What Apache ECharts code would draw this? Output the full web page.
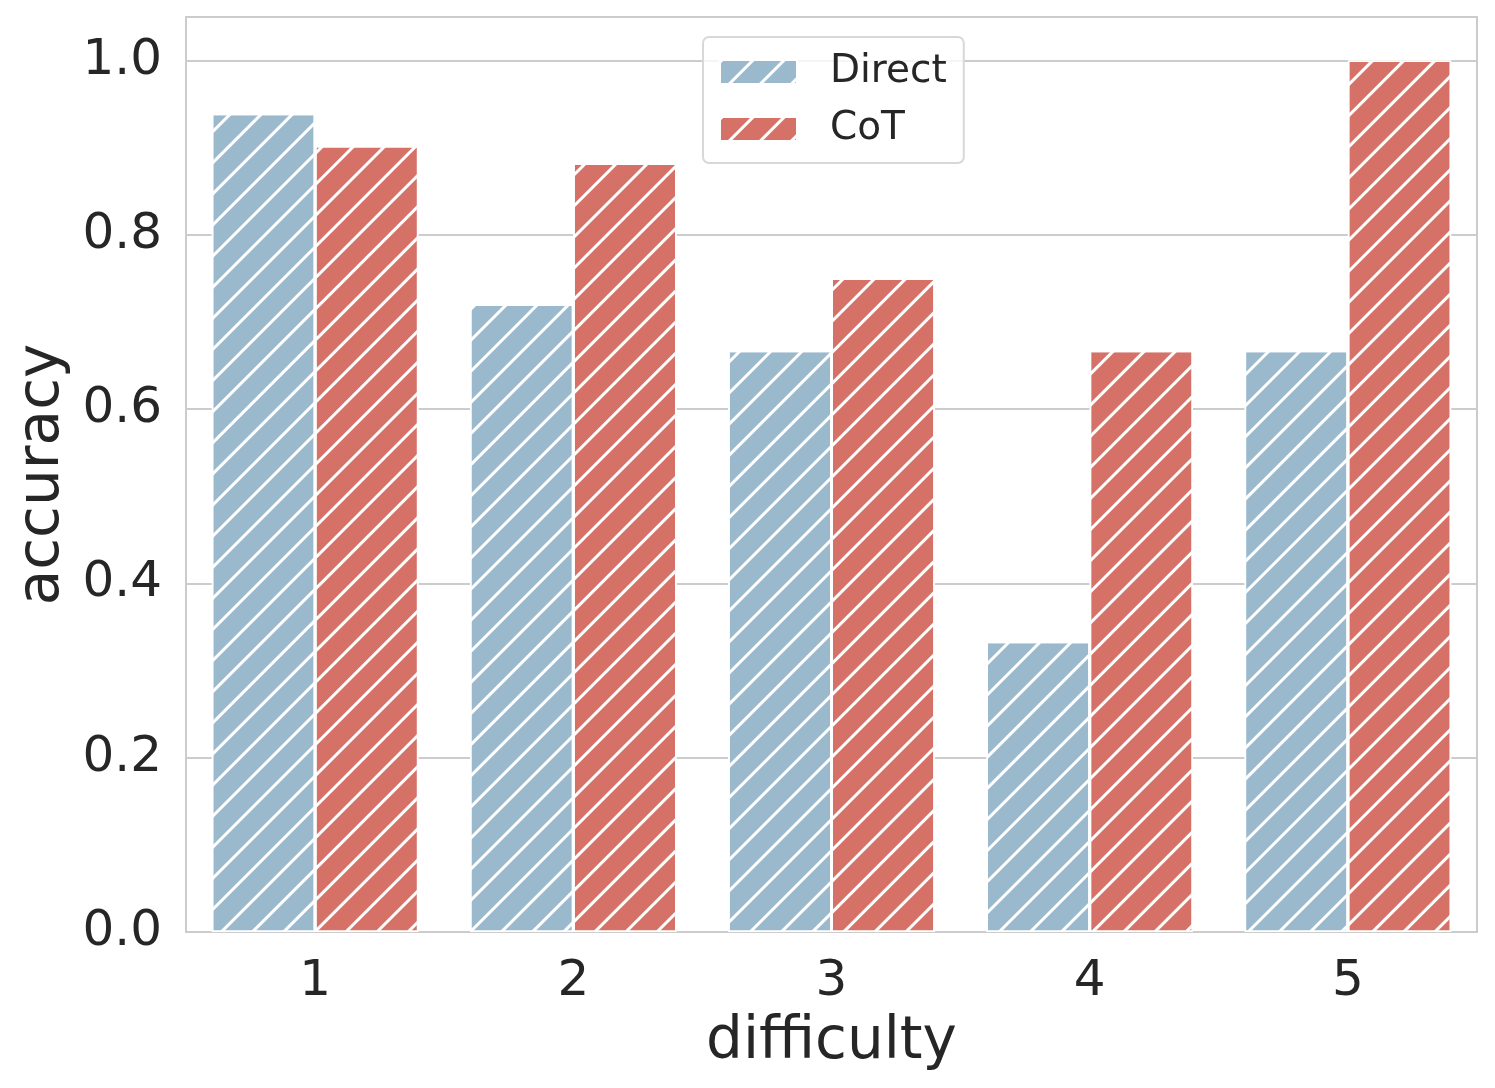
<!DOCTYPE html>
<html>
<head>
<meta charset="utf-8">
<script src="https://cdn.jsdelivr.net/npm/echarts@6/dist/echarts.min.js"></script>
<style>html,body{margin:0;padding:0;background:#fff}#c{width:1495px;height:1088px}</style>
</head>
<body>
<div id="c"></div>
<script>
const categories = ['1', '2', '3', '4', '5'];
const directValues = [0.939, 0.72, 0.667, 0.333, 0.667];
const cotValues = [0.902, 0.882, 0.75, 0.667, 1.0];
const yTicks = [0, 0.2, 0.4, 0.6, 0.8, 1.0];

const FONT = 'DejaVu Sans';
const hatch = {
  symbol: 'rect',
  symbolSize: 1,
  color: 'rgba(255,255,255,1)',
  dashArrayX: [1, 0],
  dashArrayY: [2.2, 18.3],
  rotation: -Math.PI / 4
};

const chart = echarts.init(document.getElementById('c'), null, {renderer: 'canvas'});
chart.setOption({
  backgroundColor: '#fff',
  animation: false,
  textStyle: {fontFamily: FONT},
  grid: {left: 186, right: 18, top: 17, bottom: 156, show: true, borderColor: '#cccccc', borderWidth: 2, backgroundColor: 'transparent'},
  legend: {
    left: 703, top: 37,
    orient: 'vertical',
    icon: 'rect',
    itemWidth: 77, itemHeight: 24,
    itemGap: 15,
    padding: [14, 17, 13, 16],
    backgroundColor: 'rgba(255,255,255,0.8)',
    borderColor: '#d8d8d8', borderWidth: 2, borderRadius: 6,
    textStyle: {fontFamily: FONT, fontSize: 39, color: '#262626', lineHeight: 42, padding: [0, 0, 0, 28]},
    data: ['Direct', 'CoT']
  },
  xAxis: {
    type: 'category',
    data: categories,
    name: 'difficulty',
    nameLocation: 'middle',
    nameGap: 82,
    nameTextStyle: {fontFamily: FONT, fontSize: 58, color: '#262626'},
    axisLine: {show: true, lineStyle: {color: '#cccccc', width: 2}},
    axisTick: {show: false},
    axisLabel: {fontFamily: FONT, fontSize: 50, color: '#262626', margin: 25},
    splitLine: {show: false}
  },
  yAxis: {
    type: 'value',
    min: 0, max: 1.05, interval: 0.2,
    name: 'accuracy',
    nameLocation: 'middle',
    nameGap: 110,
    nameTextStyle: {fontFamily: FONT, fontSize: 58, color: '#262626'},
    axisLine: {show: false},
    axisTick: {show: false},
    axisLabel: {
      fontFamily: FONT, fontSize: 50, color: '#262626', margin: 24,
      showMaxLabel: false,
      formatter: function (v) {
        for (const t of yTicks) { if (Math.abs(v - t) < 1e-6) return t.toFixed(1); }
        return '';
      }
    },
    splitLine: {show: true, lineStyle: {color: '#cccccc', width: 2}}
  },
  series: [
    {
      name: 'Direct', type: 'bar', data: directValues,
      barCategoryGap: '20%', barGap: '0%',
      itemStyle: {color: '#9ab9cd', borderColor: '#ffffff', borderWidth: 1.5, decal: hatch}
    },
    {
      name: 'CoT', type: 'bar', data: cotValues,
      barCategoryGap: '20%', barGap: '0%',
      itemStyle: {color: '#d57167', borderColor: '#ffffff', borderWidth: 1.5, decal: hatch}
    }
  ]
});
</script>
</body>
</html>
